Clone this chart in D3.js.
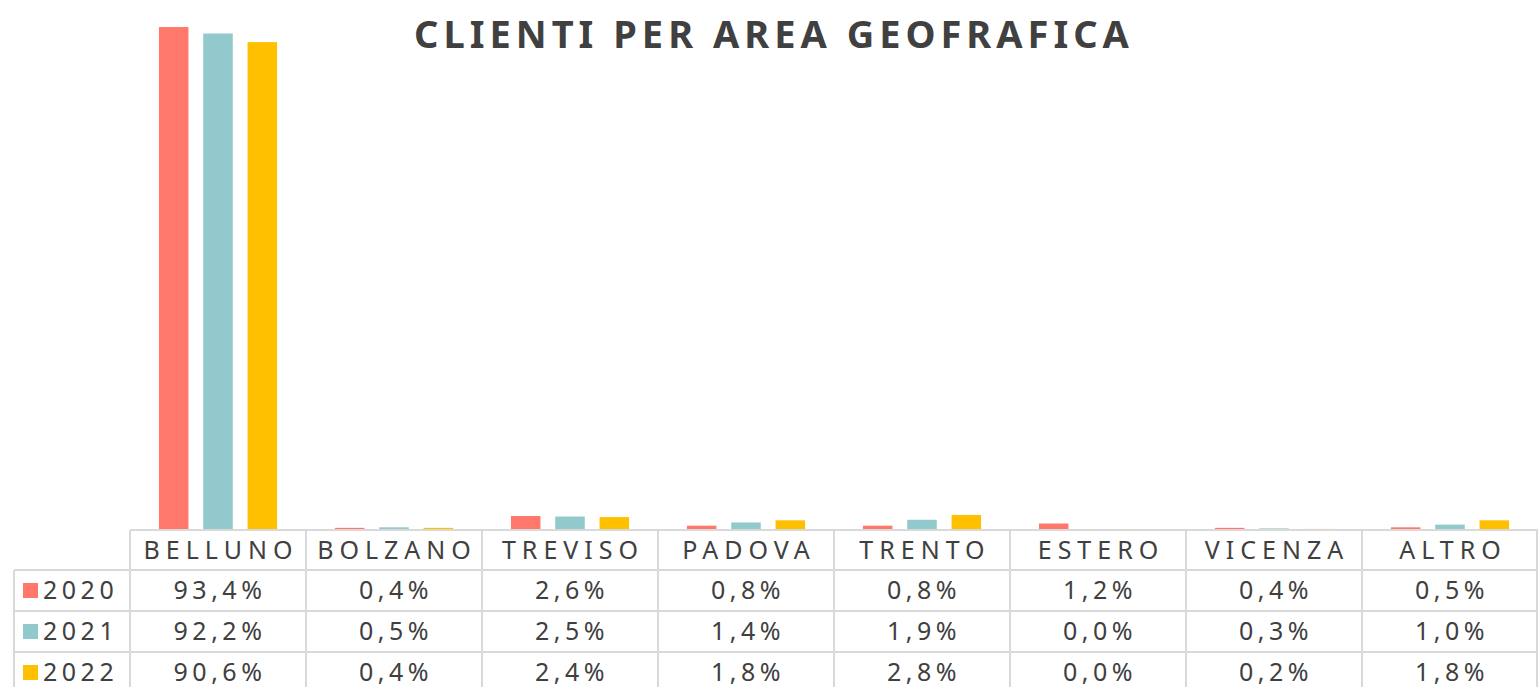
<!DOCTYPE html>
<html>
<head>
<meta charset="utf-8">
<script src="https://cdn.jsdelivr.net/npm/d3@7"></script>
<style>
  body { margin: 0; background: #fff; }
  svg { display: block; }
  text { font-family: "Noto Sans", "Open Sans", sans-serif; fill: #404040; }
  .title { font-weight: 700; font-size: 38px; letter-spacing: 5px; }
  .head { font-size: 25px; letter-spacing: 6px; }
  .cell { font-size: 25px; letter-spacing: 4.5px; }
</style>
</head>
<body>
<div id="chart"></div>
<script>
// data
var categories = ["BELLUNO", "BOLZANO", "TREVISO", "PADOVA", "TRENTO", "ESTERO", "VICENZA", "ALTRO"];
var years = ["2020", "2021", "2022"];
var values2020 = [93.4, 0.4, 2.6, 0.8, 0.8, 1.2, 0.4, 0.5];
var values2021 = [92.2, 0.5, 2.5, 1.4, 1.9, 0.0, 0.3, 1.0];
var values2022 = [90.6, 0.4, 2.4, 1.8, 2.8, 0.0, 0.2, 1.8];
var colors = ["#ff786b", "#91c9cc", "#ffc000"];

var seriesValues = [values2020, values2021, values2022];

var svgWidth = 1538;
var svgHeight = 687;

var plotLeft = 130,
    plotRight = 1538,
    baseline = 530,
    rowHeight = 41,
    headHeight = 40,
    legendLeft = 14;

var svg = d3.select("#chart")
  .append("svg")
  .attr("width", svgWidth)
  .attr("height", svgHeight);

// scales
var x0 = d3.scaleBand()
  .domain(categories)
  .range([plotLeft, plotRight]);

var x1 = d3.scaleBand()
  .domain(years)
  .range([0, x0.bandwidth()])
  .paddingInner(0.334)
  .paddingOuter(0.653);

var y = d3.scaleLinear()
  .domain([0, 100])
  .range([baseline, -8.5]);

// title
svg.append("text")
  .attr("class", "title")
  .attr("x", 774)
  .attr("y", 48)
  .attr("text-anchor", "middle")
  .text("CLIENTI PER AREA GEOFRAFICA");

// bars
var groups = svg.append("g")
  .selectAll("g")
  .data(years)
  .enter()
  .append("g")
  .attr("fill", (d, i) => colors[i]);

groups.selectAll("rect")
  .data((d, i) => seriesValues[i].map((v, j) => ({ year: d, cat: categories[j], value: v })))
  .enter()
  .append("rect")
  .attr("x", d => x0(d.cat) + x1(d.year))
  .attr("width", x1.bandwidth())
  .attr("y", d => y(d.value))
  .attr("height", d => y(0) - y(d.value));

// data table
var table = svg.append("g")
  .attr("stroke", "#d9d9d9")
  .attr("stroke-width", 2);

var tableBottom = baseline + headHeight + rowHeight * years.length;

// horizontal lines
table.append("line")
  .attr("x1", plotLeft).attr("x2", plotRight)
  .attr("y1", baseline).attr("y2", baseline);

years.forEach(function(yr, i) {
  var yy = baseline + headHeight + rowHeight * i;
  table.append("line")
    .attr("x1", legendLeft).attr("x2", plotRight)
    .attr("y1", yy).attr("y2", yy);
});

// vertical lines
categories.forEach(function(c) {
  table.append("line")
    .attr("x1", x0(c)).attr("x2", x0(c))
    .attr("y1", baseline).attr("y2", tableBottom);
});
table.append("line")
  .attr("x1", plotRight - 1).attr("x2", plotRight - 1)
  .attr("y1", baseline).attr("y2", tableBottom);
table.append("line")
  .attr("x1", legendLeft).attr("x2", legendLeft)
  .attr("y1", baseline + headHeight).attr("y2", tableBottom);

// header labels
svg.append("g")
  .selectAll("text")
  .data(categories)
  .enter()
  .append("text")
  .attr("class", "head")
  .attr("x", d => x0(d) + x0.bandwidth() / 2 + 3)
  .attr("y", baseline + 29)
  .attr("text-anchor", "middle")
  .text(d => d);

var fmt = d3.format(".1f");

// rows
years.forEach(function(yr, i) {
  var rowTop = baseline + headHeight + rowHeight * i;

  svg.append("rect")
    .attr("x", 23)
    .attr("y", rowTop + 13)
    .attr("width", 15)
    .attr("height", 15)
    .attr("fill", colors[i]);

  svg.append("text")
    .attr("class", "cell")
    .attr("x", 43)
    .attr("y", rowTop + 29)
    .text(yr);

  svg.append("g")
    .selectAll("text")
    .data(seriesValues[i])
    .enter()
    .append("text")
    .attr("class", "cell")
    .attr("x", (d, j) => x0(categories[j]) + x0.bandwidth() / 2 + 2)
    .attr("y", rowTop + 29)
    .attr("text-anchor", "middle")
    .text(d => fmt(d).replace(".", ",") + "%");
});
</script>
</body>
</html>
